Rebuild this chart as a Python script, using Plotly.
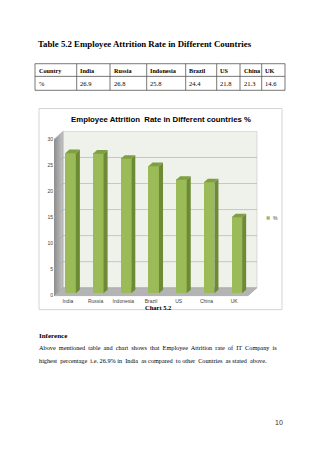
import plotly.graph_objects as go

# ---------------- data ----------------
countries = ["India", "Russia", "Indonesia", "Brazil", "US", "China", "UK"]
attrition = [26.9, 26.8, 25.8, 24.4, 21.8, 21.3, 14.6]
y_ticks = [0, 5, 10, 15, 20, 25, 30]
series_name = "%"
table_header = ["Country"] + countries
table_row = ["%"] + [str(v) for v in attrition]

# ---------------- layout helpers ----------------
W, H = 320, 453
def px(x): return x / W
def py(y): return 1 - y / H

SERIF = "Liberation Serif, Times New Roman, serif"
SANS = "Liberation Sans, Arial, sans-serif"

# plot-area pixels (front plane: value 0 at 297px, 30 at 140px)
L, R, T, B = 54, 258, 131, 298
n = len(countries)
ppx = 194 / n          # px per category
ppy = 157 / 30         # px per unit
xmin = -0.5
xmax = xmin + (R - L) / ppx
ymin = -(B - 297) / ppy
ymax = 30 + (140 - T) / ppy
DX = 9 / ppx           # depth offset (data units)
DY = 8 / ppy
ytop = max(y_ticks)
f0, f1, bw = 0.30, 0.75, 0.38
xr = xmin + n

fig = go.Figure()
shapes = []
ann = []

def path(xs, ys):
    return "M" + " L".join(f"{a},{b}" for a, b in zip(xs, ys)) + " Z"

# back wall
shapes.append(dict(type="path", xref="x", yref="y", layer="below",
                   path=path([xmin + DX, xr + DX, xr + DX, xmin + DX],
                             [DY, DY, ytop + DY, ytop + DY]),
                   fillcolor="#eff1eb", line=dict(color="#c8c8c8", width=0.6)))
# floor
shapes.append(dict(type="path", xref="x", yref="y", layer="below",
                   path=path([xmin, xr, xr + DX, xmin + DX], [0, 0, DY, DY]),
                   fillcolor="#b4b4b4", line=dict(color="#9a9a9a", width=0.5)))
# gridlines on back wall
for t in y_ticks[1:-1]:
    shapes.append(dict(type="line", xref="x", yref="y", layer="below",
                       x0=xmin + DX, x1=xr + DX, y0=t + DY, y1=t + DY,
                       line=dict(color="#b4b4b4", width=0.7)))

# side wall
fig.add_trace(go.Scatter(
    x=[xmin, xmin + DX, xmin + DX, xmin, xmin],
    y=[0, DY, ytop + DY, ytop, 0],
    fill="toself", mode="lines", line=dict(color="#9a9a9a", width=0.5),
    fillgradient=dict(type="horizontal", colorscale=[[0, "#8c8c8c"], [1, "#c4c4c4"]]),
    hoverinfo="skip", showlegend=False))
gx, gy = [], []
for t in y_ticks[1:-1]:
    gx += [xmin, xmin + DX, None]
    gy += [t, t + DY, None]
fig.add_trace(go.Scatter(x=gx, y=gy, mode="lines",
                         line=dict(color="#a8a8a8", width=0.6),
                         hoverinfo="skip", showlegend=False))

# front faces of the bars
fig.add_trace(go.Bar(
    x=[i + f0 * DX for i in range(n)], y=attrition, base=f0 * DY, width=bw,
    marker=dict(color="#9bbb59", line=dict(width=0)), name=series_name,
    showlegend=False))

# side and top faces
for i, v in enumerate(attrition):
    xr_ = i + bw / 2
    xl_ = i - bw / 2
    fig.add_trace(go.Scatter(
        x=[xr_ + f0 * DX, xr_ + f1 * DX, xr_ + f1 * DX, xr_ + f0 * DX, xr_ + f0 * DX],
        y=[f0 * DY, f1 * DY, v + f1 * DY, v + f0 * DY, f0 * DY],
        fill="toself", mode="lines", line=dict(width=0, color="#6d8a34"),
        fillcolor="#6d8a34", hoverinfo="skip", showlegend=False))
    fig.add_trace(go.Scatter(
        x=[xl_ + f0 * DX, xr_ + f0 * DX, xr_ + f1 * DX, xl_ + f1 * DX, xl_ + f0 * DX],
        y=[v + f0 * DY, v + f0 * DY, v + f1 * DY, v + f1 * DY, v + f0 * DY],
        fill="toself", mode="lines", line=dict(width=0, color="#7f9f42"),
        fillcolor="#7f9f42", hoverinfo="skip", showlegend=False))

fig.update_xaxes(range=[xmin, xmax], domain=[px(L), px(R)],
                 tickvals=list(range(n)), ticktext=countries,
                 showgrid=False, zeroline=False, showline=False, ticks="",
                 tickfont=dict(family=SANS, size=5, color="#404040"), fixedrange=True)
fig.update_yaxes(range=[ymin, ymax], domain=[py(B), py(T)],
                 tickvals=y_ticks, showgrid=False, zeroline=False, showline=False,
                 ticks="", tickfont=dict(family=SANS, size=5, color="#404040"),
                 fixedrange=True)

# chart box
shapes.append(dict(type="rect", xref="paper", yref="paper", x0=px(39), x1=px(282),
                   y0=py(311), y1=py(109), line=dict(color="#d4d4d4", width=1),
                   layer="below"))
# legend
shapes.append(dict(type="rect", xref="paper", yref="paper", x0=px(266.5), x1=px(269.8),
                   y0=py(220.6), y1=py(217.3), fillcolor="#9bbb59", line=dict(width=0)))
ann.append(dict(text=series_name, x=px(272), y=py(219), xanchor="left", yanchor="middle",
                font=dict(family=SANS, size=5, color="#404040")))

# table
col_edges = [35, 76.7, 110, 146.7, 185.7, 216.7, 240, 261.7, 285]
row_edges = [64, 76.7, 90.7]
for xe in col_edges:
    shapes.append(dict(type="line", xref="paper", yref="paper", x0=px(xe), x1=px(xe),
                       y0=py(row_edges[0]), y1=py(row_edges[-1]),
                       line=dict(color="#555555", width=0.8)))
for ye in row_edges:
    shapes.append(dict(type="line", xref="paper", yref="paper", x0=px(col_edges[0]),
                       x1=px(col_edges[-1]), y0=py(ye), y1=py(ye),
                       line=dict(color="#555555", width=0.8)))
for r, row in enumerate([table_header, table_row]):
    yc = (row_edges[r] + row_edges[r + 1]) / 2
    for c, txt in enumerate(row):
        ann.append(dict(text=f"<b>{txt}</b>" if r == 0 else txt,
                        x=px(col_edges[c] + 2.6), y=py(yc), xanchor="left", yanchor="middle",
                        font=dict(family=SERIF, size=6.2 if r == 0 else 6.5, color="#000")))

# texts
ann.append(dict(text="<b>Table 5.2 Employee Attrition Rate in Different Countries</b>",
                x=px(37), y=py(44.5), xanchor="left", yanchor="middle",
                font=dict(family=SERIF, size=8.8, color="#000")))
ann.append(dict(text="<b>Employee Attrition  Rate in Different countries %</b>",
                x=px(161), y=py(120), xanchor="center", yanchor="middle",
                font=dict(family=SANS, size=7.8, color="#000")))
ann.append(dict(text="<b>Chart 5.2</b>", x=px(158), y=py(309), xanchor="center",
                yanchor="middle", font=dict(family=SERIF, size=6.5, color="#000")))
ann.append(dict(text="<b>Inference</b>", x=px(38), y=py(337), xanchor="left",
                yanchor="middle", font=dict(family=SERIF, size=7, color="#000")))
ann.append(dict(text="Above  mentioned  table  and  chart  shows  that  Employee  Attrition  rate  of  IT  Company  is",
                x=px(38), y=py(349.5), xanchor="left", yanchor="middle",
                font=dict(family=SERIF, size=6.25, color="#000")))
ann.append(dict(text="highest  percentage  i.e. 26.9% in  India  as compared  to other  Countries  as stated  above.",
                x=px(38), y=py(362), xanchor="left", yanchor="middle",
                font=dict(family=SERIF, size=6.25, color="#000")))
ann.append(dict(text="10", x=px(279), y=py(424), xanchor="center", yanchor="middle",
                font=dict(family=SANS, size=7, color="#333333")))
for a in ann:
    a.update(xref="paper", yref="paper", showarrow=False, borderpad=0)

fig.update_layout(width=W, height=H, margin=dict(l=0, r=0, t=0, b=0),
                  paper_bgcolor="white", plot_bgcolor="rgba(0,0,0,0)",
                  shapes=shapes, annotations=ann, bargap=0, showlegend=False)

fig.write_html("out.html", config={"displayModeBar": False})
